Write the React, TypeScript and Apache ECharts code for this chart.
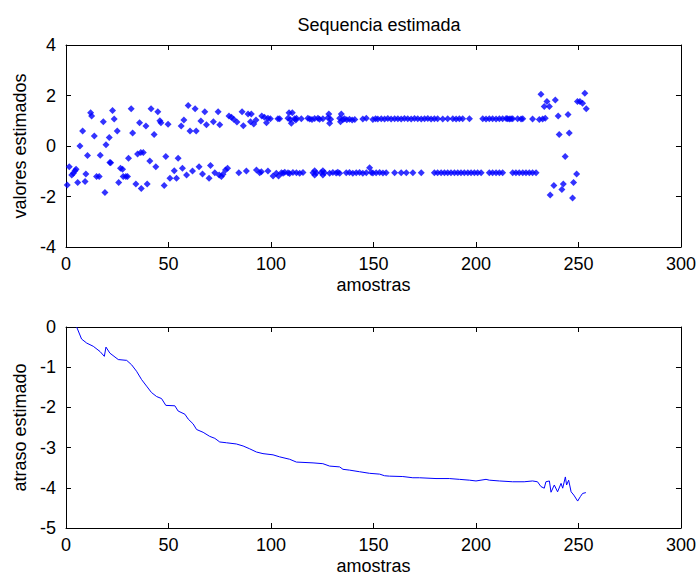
import React, { useEffect, useRef } from "react";
import * as echarts from "echarts";

const titulo = "Sequencia estimada";
const xTicks = [0, 50, 100, 150, 200, 250, 300];

// Estimated symbols (top plot): [amostra, valor]
const pontosPositivos: [number, number][] = [
  [6.8, 0.0], [8.1, 0.59], [12.0, 1.32], [12.5, 1.19], [13.8, 0.4], [18.2, 0.96], [19.5, 0.05], [21.1, 0.34],
  [22.7, 1.41], [23.5, 1.07], [25, 0.59], [31.8, 1.48], [32.5, 0.51], [35.9, 0.92], [39, 0.79], [41.5, 1.48],
  [43, 0.46], [44.8, 1.36], [45.8, 1.0], [46.3, 0.92], [49.8, 0.86], [56.2, 0.79], [57.5, 1.03], [59.6, 1.6],
  [60.5, 0.59], [63, 1.48], [63.5, 0.59], [65.8, 0.99], [67.7, 1.36], [68.5, 0.84], [71.9, 0.96], [74.2, 1.36],
  [75, 0.84], [79.5, 1.19], [80.7, 1.14], [81.8, 1.06], [83.4, 0.95], [85.9, 1.36], [86.5, 0.8], [88.8, 1.27],
  [90.4, 1.27], [90, 0.96], [91.6, 0.87], [92.7, 1.03], [95.5, 1.19], [96.8, 1.14], [97.8, 0.92], [98.5, 1.1],
  [99.7, 1.08], [103.4, 1.08], [104.2, 1.08], [108.3, 1.1], [108.8, 1.32], [109.4, 1.05], [109.9, 0.9],
  [110.4, 1.32], [111.5, 1.08], [112.1, 1.03], [112.4, 1.1], [114.8, 1.08], [118, 1.1], [118.9, 1.07],
  [120, 1.05], [121.3, 1.09], [122.9, 1.1], [123.7, 1.06], [125.3, 1.08], [127.8, 1.12], [128.2, 1.27],
  [128.6, 0.9], [129.1, 1.06], [133.5, 1.1], [133.9, 0.96], [134.3, 1.27], [135.1, 1.05], [135.9, 1.08],
  [137, 1.04], [138.3, 1.06], [139.6, 1.03], [140.9, 1.05], [144.8, 1.07], [146.5, 1.1], [149.7, 1.05],
  [151, 1.08], [152.1, 1.07], [153.8, 1.08], [155.4, 1.07], [157, 1.09], [158.6, 1.07], [160.3, 1.08],
  [161.9, 1.08], [163.5, 1.07], [165.1, 1.09], [166.7, 1.08], [168.4, 1.07], [170, 1.09], [171.6, 1.08],
  [173.3, 1.07], [174.9, 1.08], [176.5, 1.09], [178.1, 1.07], [179.7, 1.08], [181.3, 1.08], [183.8, 1.07],
  [186.2, 1.08], [188.7, 1.08], [190.3, 1.07], [191.9, 1.08], [193.5, 1.08], [196.8, 1.08], [203.3, 1.08],
  [204.9, 1.07], [206.5, 1.08], [208.1, 1.08], [209.8, 1.07], [211.4, 1.08], [213, 1.08], [214.7, 1.09],
  [215.4, 1.08], [216.3, 1.07], [217.1, 1.08], [217.9, 1.08], [220.3, 1.08], [222, 1.07], [222.8, 1.08],
  [227.6, 1.07], [230.9, 1.05], [232.5, 1.07], [233.8, 1.1], [231.7, 2.05], [233.3, 1.56], [235.8, 1.56],
  [234.6, 1.76], [238.7, 1.82], [240.1, 1.19], [240.6, 0.46], [244.9, 1.25], [245.5, 0.51], [249.5, 1.76],
  [250.7, 1.76], [252, 1.69], [253.1, 2.09], [253.8, 1.48],
];

const pontosNegativos: [number, number][] = [
  [0.6, -1.54], [1.6, -0.82], [2.8, -1.15], [3.6, -1.08], [4.4, -0.98], [4.9, -0.92], [5.7, -1.45], [9.3, -1.41],
  [9.7, -1.11], [10.5, -0.38], [14.9, -1.21], [16.2, -1.21], [16.7, -0.37], [19, -1.84], [21.4, -0.65],
  [21.8, -0.66], [25.7, -1.45], [26.6, -0.88], [27.6, -0.92], [27.9, -1.21], [29.2, -1.21], [30, -1.21],
  [30.5, -0.49], [34.1, -1.5], [34.9, -0.32], [36.5, -0.26], [37.7, -0.26], [36.7, -1.68], [39.6, -1.5],
  [40.9, -0.59], [43.8, -0.82], [47.9, -1.56], [48.7, -0.42], [50.7, -1.28], [52.8, -0.98], [53.9, -1.28],
  [54.7, -0.49], [56.8, -0.88], [58.8, -1.15], [61.7, -0.99], [64.9, -0.82], [66.6, -1.11], [69.8, -1.28],
  [70.5, -0.77], [72.6, -1.06], [74.7, -1.15], [75.8, -1.21], [76.6, -1.12], [77.8, -0.95], [78.8, -0.88],
  [84.3, -1.06], [88, -0.99], [92.9, -0.95], [94.5, -1.06], [95.3, -1.02], [98.5, -0.99], [101, -1.19],
  [102.6, -1.08], [103.7, -1.19], [105.1, -1.06], [105.9, -1.08], [106.7, -1.04], [108.3, -1.06],
  [109.1, -1.09], [110.7, -1.05], [112.4, -1.06], [114, -1.08], [115.6, -1.05], [120.5, -1.06],
  [121.3, -0.98], [121.3, -1.15], [122.1, -1.07], [124.5, -1.05], [125.3, -0.98], [125.3, -1.15],
  [126.1, -1.06], [128.6, -1.08], [130.2, -1.05], [131.8, -1.07], [132.6, -1.04], [133.5, -1.08],
  [136.7, -1.06], [138.3, -1.05], [139.9, -1.08], [141.6, -1.06], [143.2, -1.05], [144.8, -1.08],
  [146.5, -1.06], [148.1, -0.86], [148.9, -1.05], [149.7, -1.07], [151.3, -1.06], [153, -1.05],
  [154.6, -1.07], [156.2, -1.06], [160.3, -1.06], [163.5, -1.06], [166, -1.06], [169.2, -1.06],
  [173.3, -1.06], [179.7, -1.06], [181.3, -1.06], [183, -1.06], [184.6, -1.06], [186.2, -1.06],
  [187.8, -1.06], [189.5, -1.06], [191.1, -1.06], [192.7, -1.06], [194.3, -1.06], [196, -1.06],
  [197.6, -1.06], [199.2, -1.06], [200.8, -1.06], [202.5, -1.06], [206.5, -1.06], [208.1, -1.06],
  [209.8, -1.06], [211.4, -1.06], [213, -1.06], [217.9, -1.06], [219.5, -1.06], [221.1, -1.06],
  [222.8, -1.06], [224.4, -1.06], [226, -1.06], [227.6, -1.06], [229.3, -1.06], [236.2, -1.94],
  [238, -1.56], [241.9, -1.72], [242.6, -1.5], [243.5, -0.42], [247.1, -2.06], [247.6, -1.45], [249.1, -1.11],
];

// Estimated delay (bottom plot): [amostra, atraso]
const atrasoEstimado: [number, number][] = [
  [5.2, 0], [7.6, -0.3], [10.1, -0.4], [13.3, -0.48], [16.6, -0.61], [18.7, -0.73], [19.5, -0.5], [21.4, -0.65],
  [25.5, -0.81], [29.6, -0.83], [32, -0.94], [34.4, -1.1], [36.9, -1.31], [39.3, -1.47], [41.7, -1.63],
  [44.2, -1.73], [46.6, -1.78], [48.7, -1.95], [53.1, -1.96], [54.7, -2.09], [58, -2.17], [59.6, -2.29],
  [62, -2.41], [63.7, -2.55], [66.9, -2.62], [70.1, -2.72], [72.6, -2.77], [75, -2.86], [78.3, -2.88],
  [83.1, -2.91], [86.4, -2.96], [89.6, -3.03], [92.9, -3.11], [96.1, -3.15], [101, -3.18], [104.2, -3.23],
  [109.1, -3.29], [112.4, -3.36], [120.5, -3.38], [125.3, -3.4], [128.6, -3.46], [133.5, -3.48],
  [135.1, -3.54], [138.3, -3.56], [143.2, -3.6], [148.1, -3.64], [153, -3.66], [155.4, -3.7], [157.8, -3.71],
  [164.3, -3.72], [169.2, -3.75], [172.4, -3.75], [180.5, -3.77], [187, -3.77], [191.9, -3.79],
  [196.8, -3.81], [200, -3.83], [204.9, -3.79], [206.5, -3.81], [211.4, -3.83], [217.9, -3.85],
  [223.5, -3.85], [227.6, -3.83], [230, -3.85], [231.7, -3.97], [233.3, -4.01], [234.1, -3.85],
  [235.8, -3.83], [236.6, -4.11], [238.2, -3.93], [239.8, -4.1], [241.5, -3.89], [242.3, -4.01],
  [243.6, -3.73], [244.2, -3.93], [245.2, -3.81], [246.4, -4.1], [247.7, -4.18], [249.6, -4.33],
  [250.9, -4.22], [252, -4.14], [253.6, -4.12],
];

const FONT = "Liberation Sans";
const FS = 18;
const BLUE = "#0000ff";

export default function App() {
  const ref = useRef<HTMLDivElement>(null);
  useEffect(() => {
    document.body.style.margin = "0";
    if (!ref.current) return;
    const chart = echarts.init(ref.current, null, { renderer: "svg" });
    const lineStyle = { color: "#000", width: 1 };
    const label = { color: "#000", fontFamily: FONT, fontSize: FS };
    const xMain = (gridIndex: number) => ({
      type: "value",
      gridIndex,
      min: xTicks[0],
      max: xTicks[xTicks.length - 1],
      interval: 50,
      position: "bottom",
      name: "amostras",
      nameLocation: "middle",
      nameGap: 29,
      nameTextStyle: { ...label },
      axisLine: { show: true, onZero: false, lineStyle },
      axisTick: { show: true, inside: true, length: 5, lineStyle },
      axisLabel: { ...label, margin: 8 },
      splitLine: { show: false },
    });
    const xMirror = (gridIndex: number) => ({
      type: "value",
      gridIndex,
      min: 0,
      max: 300,
      interval: 50,
      position: "top",
      axisLine: { show: true, onZero: false, lineStyle },
      axisTick: { show: true, inside: true, length: 5, lineStyle },
      axisLabel: { show: false },
      splitLine: { show: false },
    });
    const yMain = (gridIndex: number, min: number, max: number, interval: number, name: string) => ({
      type: "value",
      gridIndex,
      min,
      max,
      interval,
      position: "left",
      name,
      nameLocation: "middle",
      nameGap: 36,
      nameTextStyle: { ...label },
      axisLine: { show: true, onZero: false, lineStyle },
      axisTick: { show: true, inside: true, length: 5, lineStyle },
      axisLabel: { ...label, margin: 10 },
      splitLine: { show: false },
    });
    const yMirror = (gridIndex: number, min: number, max: number, interval: number) => ({
      type: "value",
      gridIndex,
      min,
      max,
      interval,
      position: "right",
      axisLine: { show: true, onZero: false, lineStyle },
      axisTick: { show: true, inside: true, length: 5, lineStyle },
      axisLabel: { show: false },
      splitLine: { show: false },
    });

    chart.setOption({
      animation: false,
      backgroundColor: "#fff",
      title: {
        text: titulo,
        left: 374,
        top: 11,
        textAlign: "center",
        textStyle: { ...label, fontWeight: "normal" },
      },
      grid: [
        { left: 66, top: 45, width: 616, height: 202, containLabel: false },
        { left: 66, top: 327, width: 616, height: 203, containLabel: false },
      ],
      xAxis: [xMain(0), xMirror(0), xMain(1), xMirror(1)],
      yAxis: [
        yMain(0, -4, 4, 2, "valores estimados"),
        yMirror(0, -4, 4, 2),
        yMain(1, -5, 0, 1, "atraso estimado"),
        yMirror(1, -5, 0, 1),
      ],
      series: [
        {
          type: "scatter",
          xAxisIndex: 0,
          yAxisIndex: 0,
          data: pontosPositivos,
          symbol: "diamond",
          symbolSize: 7,
          itemStyle: { color: BLUE },
        },
        {
          type: "scatter",
          xAxisIndex: 0,
          yAxisIndex: 0,
          data: pontosNegativos,
          symbol: "diamond",
          symbolSize: 7,
          itemStyle: { color: BLUE },
        },
        {
          type: "line",
          xAxisIndex: 2,
          yAxisIndex: 2,
          data: atrasoEstimado,
          showSymbol: false,
          symbol: "none",
          lineStyle: { color: BLUE, width: 1 },
        },
      ],
    });
    return () => chart.dispose();
  }, []);
  return <div ref={ref} style={{ width: 699, height: 576 }} />;
}
